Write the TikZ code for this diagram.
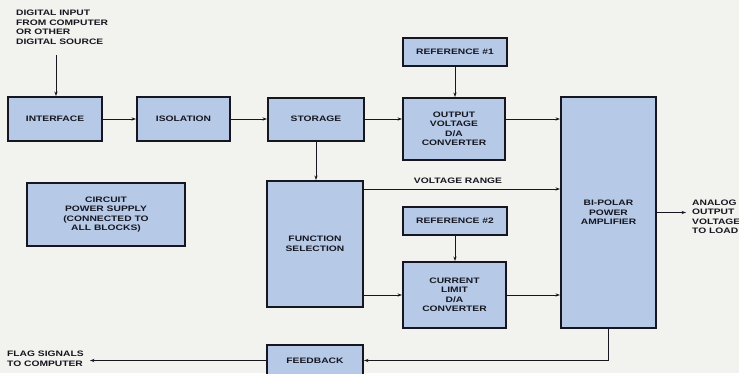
\documentclass[tikz,border=0pt]{standalone}
\usepackage{fontspec}
\newfontfamily\lab[FakeStretch=1.3,BoldFeatures={FakeStretch=1.3}]{Liberation Sans}
\usetikzlibrary{arrows.meta,calc}
\definecolor{bg}{RGB}{242,242,239}
\definecolor{boxfill}{RGB}{182,202,232}
\definecolor{ink}{RGB}{22,22,32}
\tikzset{
  blk/.style={draw=ink, line width=2pt, fill=boxfill, align=center, inner sep=1pt,
    font=\lab\bfseries\fontsize{7.9}{9.5}\selectfont, text=ink},
  txt/.style={align=left, inner sep=0pt, font=\lab\bfseries\fontsize{7.9}{9.5}\selectfont, text=ink},
  arr/.style={draw=ink, line width=0.8pt, -{Stealth[length=4.5pt,width=3.2pt]}},
  ln/.style={draw=ink, line width=0.8pt}
}
\begin{document}
\begin{tikzpicture}[x=1pt,y=-1pt]
\useasboundingbox (0,0) rectangle (739,373);
\fill[bg] (0,0) rectangle (739,373);

\node[blk, minimum width=94pt, minimum height=44pt] (interface) at (55,119) {INTERFACE};
\node[blk, minimum width=93pt, minimum height=44pt] (isolation) at (183.5,119) {ISOLATION};
\node[blk, minimum width=96pt, minimum height=43pt] (storage) at (316,119) {STORAGE};
\node[blk, minimum width=104pt, minimum height=28pt] (ref1) at (455,52) {REFERENCE \#1};
\node[blk, minimum width=102pt, minimum height=62pt] (outv) at (454,129) {OUTPUT\\VOLTAGE\\D/A\\CONVERTER};
\node[blk, minimum width=95pt, minimum height=231pt] (bipolar) at (608.5,212.5) {BI-POLAR\\POWER\\AMPLIFIER};
\node[blk, minimum width=158pt, minimum height=63pt] (power) at (106,214.5) {CIRCUIT\\POWER SUPPLY\\(CONNECTED TO\\ALL BLOCKS)};
\node[blk, minimum width=96pt, minimum height=126pt] (func) at (315,244) {FUNCTION\\SELECTION};
\node[blk, minimum width=104pt, minimum height=28pt] (ref2) at (455,221) {REFERENCE \#2};
\node[blk, minimum width=103pt, minimum height=66pt] (curr) at (454.5,295) {CURRENT\\LIMIT\\D/A\\CONVERTER};
\node[blk, minimum width=96pt, minimum height=31pt] (feedback) at (315,360.5) {FEEDBACK};

\node[txt, anchor=north west] (dintext) at (16,10) {DIGITAL INPUT\\FROM COMPUTER\\OR OTHER\\DIGITAL SOURCE};
\coordinate (din) at (56,55);
\draw[arr] (din) -- (din |- interface.north);

\draw[arr] (interface.east) -- (interface.east -| isolation.west);
\draw[arr] (isolation.east) -- (isolation.east -| storage.west);
\draw[arr] (storage.east) -- (storage.east -| outv.west);
\draw[arr] (storage.south) -- (storage.south |- func.north);
\draw[arr] (ref1.south) -- (ref1.south |- outv.north);
\draw[arr] (outv.east |- storage.east) -- (bipolar.west |- storage.east);

\coordinate (vr) at ([yshift=-9pt]func.north east);
\draw[arr] (vr) -- (vr -| bipolar.west);
\node[txt, anchor=center] (vrlabel) at (458,181) {VOLTAGE RANGE};

\draw[arr] (ref2.south) -- (ref2.south |- curr.north);
\draw[arr] (func.east |- curr.west) -- (curr.west);
\draw[arr] (curr.east) -- (curr.east -| bipolar.west);

\coordinate (out) at (686,212.5);
\draw[arr] (bipolar.east) -- (out);
\node[txt, anchor=west] (outtext) at (692,217) {ANALOG\\OUTPUT\\VOLTAGE\\TO LOAD};

\draw[arr] (bipolar.south) |- (feedback.east);
\coordinate (flag) at (90,360.5);
\draw[arr] (feedback.west) -- (flag);
\node[txt, anchor=west] (flagtext) at (7,359) {FLAG SIGNALS\\TO COMPUTER};
\end{tikzpicture}
\end{document}
